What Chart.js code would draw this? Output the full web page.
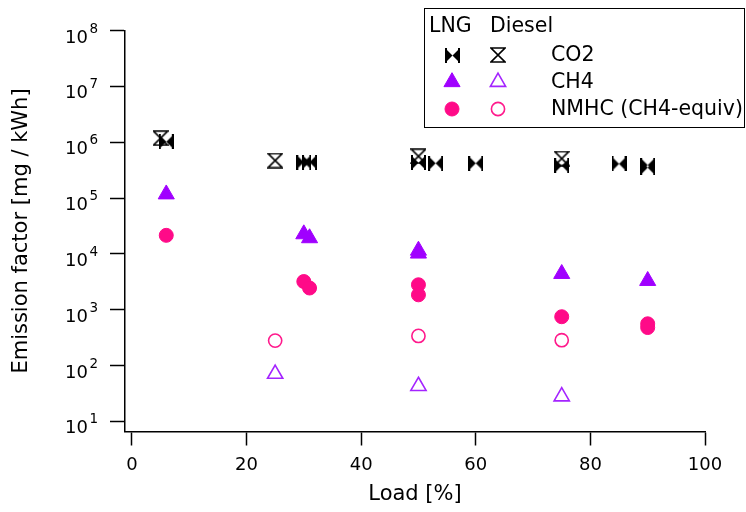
<!DOCTYPE html>
<html>
<head>
<meta charset="utf-8">
<script src="https://cdn.jsdelivr.net/npm/chart.js@4/dist/chart.umd.min.js"></script>
<style>
  html, body { margin: 0; padding: 0; background: #fff; }
  #wrap { width: 746px; height: 512px; }
</style>
</head>
<body>
<div id="wrap"><canvas id="c" width="746" height="512"></canvas></div>
<script>
// Engine load (%) and emission factors (mg/kWh) per fuel and species
const lngCo2Load = [6, 30, 31, 50, 53, 60, 75, 85, 90, 90];
const lngCo2 = [1.02e6, 4.4e5, 4.4e5, 4.3e5, 4.2e5, 4.2e5, 3.8e5, 4.1e5, 3.9e5, 3.5e5];
const dieselCo2Load = [5, 25, 50, 75];
const dieselCo2 = [1.18e6, 4.7e5, 5.6e5, 5.1e5];

const lngCh4Load = [6, 30, 31, 50, 50, 75, 90];
const lngCh4 = [1.17e5, 2.26e4, 1.92e4, 1.15e4, 1.02e4, 4.4e3, 3.3e3];
const dieselCh4Load = [25, 50, 75];
const dieselCh4 = [71, 43, 28];

const lngNmhcLoad = [6, 30, 31, 50, 50, 75, 90, 90];
const lngNmhc = [2.15e4, 3.2e3, 2.45e3, 2.8e3, 1.85e3, 750, 560, 480];
const dieselNmhcLoad = [25, 50, 75];
const dieselNmhc = [280, 340, 285];

// Axis ticks and legend text
const xTickValues = [0, 20, 40, 60, 80, 100];
const yTickExponents = [1, 2, 3, 4, 5, 6, 7, 8];
const legendHeads = ['LNG', 'Diesel'];
const legendRows = ['CO2', 'CH4', 'NMHC (CH4-equiv)'];

const FONT = '"DejaVu Sans", Verdana, sans-serif';
const PURPLE = '#a000ff';
const PURPLE_OPEN = '#a424ff';
const PINK = '#ff0a88';
const PINK_OPEN = '#ff1a8c';

// Bow-tie (filled) and hourglass (open) marker glyphs
function makeBowtie(size) {
  const c = document.createElement('canvas');
  c.width = size; c.height = size;
  const g = c.getContext('2d');
  g.fillStyle = '#000';
  g.beginPath();
  g.moveTo(0, 0); g.lineTo(size / 2, size / 2); g.lineTo(0, size); g.closePath();
  g.moveTo(size, 0); g.lineTo(size / 2, size / 2); g.lineTo(size, size); g.closePath();
  g.fill();
  g.fillRect(0, 0, 2, size);
  g.fillRect(size - 2, 0, 2, size);
  return c;
}
function makeHourglass(size) {
  const c = document.createElement('canvas');
  c.width = size; c.height = size;
  const g = c.getContext('2d');
  g.strokeStyle = '#000';
  g.lineWidth = 1.6;
  const a = 1, b = size - 1;
  g.beginPath();
  g.moveTo(a, a); g.lineTo(b, a); g.lineTo(a, b); g.lineTo(b, b); g.closePath();
  g.stroke();
  return c;
}
const bowtie = makeBowtie(15);
const hourglass = makeHourglass(16);

const pts = (xs, ys) => xs.map((x, i) => ({ x: x, y: ys[i] }));

const datasets = [
  { label: 'LNG CO2', data: pts(lngCo2Load, lngCo2), pointStyle: bowtie, pointRadius: 8 },
  { label: 'LNG CH4', data: pts(lngCh4Load, lngCh4), pointStyle: 'triangle', pointRadius: 9.3,
    pointBackgroundColor: PURPLE, pointBorderColor: PURPLE, pointBorderWidth: 1 },
  { label: 'LNG NMHC', data: pts(lngNmhcLoad, lngNmhc), pointStyle: 'circle', pointRadius: 7,
    pointBackgroundColor: PINK, pointBorderColor: PINK, pointBorderWidth: 1 },
  { label: 'Diesel CO2', data: pts(dieselCo2Load, dieselCo2), pointStyle: hourglass, pointRadius: 8 },
  { label: 'Diesel CH4', data: pts(dieselCh4Load, dieselCh4), pointStyle: 'triangle', pointRadius: 8.8,
    pointBackgroundColor: 'rgba(255,255,255,0)', pointBorderColor: PURPLE_OPEN, pointBorderWidth: 1.6 },
  { label: 'Diesel NMHC', data: pts(dieselNmhcLoad, dieselNmhc), pointStyle: 'circle', pointRadius: 6.6,
    pointBackgroundColor: 'rgba(255,255,255,0)', pointBorderColor: PINK_OPEN, pointBorderWidth: 1.6 }
];
datasets.forEach((d, i) => { d.order = i; d.showLine = false; d.pointHoverRadius = d.pointRadius; });

// Marker drawing for the legend, same geometry as the chart points
function drawMarker(ctx, ds, x, y) {
  const st = ds.pointStyle;
  ctx.save();
  if (st instanceof HTMLCanvasElement) {
    ctx.drawImage(st, Math.round(x - st.width / 2), Math.round(y - st.height / 2));
  } else {
    const r = ds.pointRadius;
    ctx.fillStyle = ds.pointBackgroundColor;
    ctx.strokeStyle = ds.pointBorderColor;
    ctx.lineWidth = ds.pointBorderWidth;
    ctx.beginPath();
    if (st === 'circle') {
      ctx.arc(x, y, r, 0, Math.PI * 2);
    } else {
      let a = 0;
      for (let k = 0; k < 3; k++) {
        const px = x + Math.sin(a) * r, py = y - Math.cos(a) * r;
        if (k === 0) ctx.moveTo(px, py); else ctx.lineTo(px, py);
        a += 2 * Math.PI / 3;
      }
      ctx.closePath();
    }
    ctx.fill();
    ctx.stroke();
  }
  ctx.restore();
}

const extras = {
  id: 'extras',
  afterDraw(chart) {
    const ctx = chart.ctx;
    const ys = chart.scales.y;
    ctx.save();
    ctx.fillStyle = '#000';
    // power-of-ten tick labels with raised exponents
    yTickExponents.forEach(e => {
      const py = ys.getPixelForValue(Math.pow(10, e));
      ctx.font = '18px ' + FONT;
      ctx.textAlign = 'right';
      ctx.textBaseline = 'alphabetic';
      ctx.fillText('10', 88, py + 12);
      ctx.font = '13.5px ' + FONT;
      ctx.textAlign = 'left';
      ctx.fillText(String(e), 89.5, py + 2);
    });

    // legend box
    const bx = 424.5, by = 8.5, bw = 320, bh = 119;
    ctx.fillStyle = '#fff';
    ctx.fillRect(bx, by, bw, bh);
    ctx.strokeStyle = '#000';
    ctx.lineWidth = 1;
    ctx.strokeRect(bx, by, bw, bh);

    ctx.fillStyle = '#000';
    ctx.font = '20.5px ' + FONT;
    ctx.textAlign = 'left';
    ctx.textBaseline = 'alphabetic';
    ctx.fillText(legendHeads[0], 429, 32);
    ctx.fillText(legendHeads[1], 490, 32);

    const rowY = [55, 82, 109];
    legendRows.forEach((t, i) => {
      drawMarker(ctx, datasets[i], 452, rowY[i]);
      drawMarker(ctx, datasets[i + 3], 498, rowY[i]);
      ctx.fillStyle = '#000';
      ctx.font = '20.5px ' + FONT;
      ctx.textBaseline = 'middle';
      ctx.fillText(t, 551, rowY[i] + 1);
    });
    ctx.restore();
  }
};

new Chart(document.getElementById('c'), {
  type: 'scatter',
  data: { datasets: datasets },
  plugins: [extras],
  options: {
    responsive: false,
    animation: false,
    devicePixelRatio: 1,
    layout: { padding: { left: 11.5, right: 41, top: 30.5, bottom: 6.5 } },
    plugins: { legend: { display: false }, tooltip: { enabled: false } },
    scales: {
      x: {
        type: 'linear',
        min: -1.2,
        max: 100,
        afterBuildTicks: s => { s.ticks = xTickValues.map(v => ({ value: v })); },
        border: { display: true, color: '#000', width: 1.5 },
        grid: { drawOnChartArea: false, drawTicks: true, tickLength: 14, tickColor: '#000', tickWidth: 1.5 },
        ticks: { color: '#000', font: { family: FONT, size: 18, lineHeight: 1 }, padding: 10.5, maxRotation: 0,
                 callback: v => String(v) },
        title: { display: true, text: 'Load [%]', color: '#000',
                 font: { family: FONT, size: 21, lineHeight: 1 }, padding: { top: 0, bottom: 0 } }
      },
      y: {
        type: 'logarithmic',
        min: Math.pow(10, 0.82),
        max: 1e8,
        afterBuildTicks: s => { s.ticks = yTickExponents.map(e => ({ value: Math.pow(10, e) })); },
        border: { display: true, color: '#000', width: 1.5 },
        grid: { drawOnChartArea: false, drawTicks: true, tickLength: 15, tickColor: '#000', tickWidth: 1.5 },
        ticks: { display: false },
        title: { display: true, text: 'Emission factor [mg / kWh]', color: '#000',
                 font: { family: FONT, size: 21, lineHeight: 1 }, padding: { top: 0, bottom: 77.5 } }
      }
    }
  }
});
</script>
</body>
</html>
